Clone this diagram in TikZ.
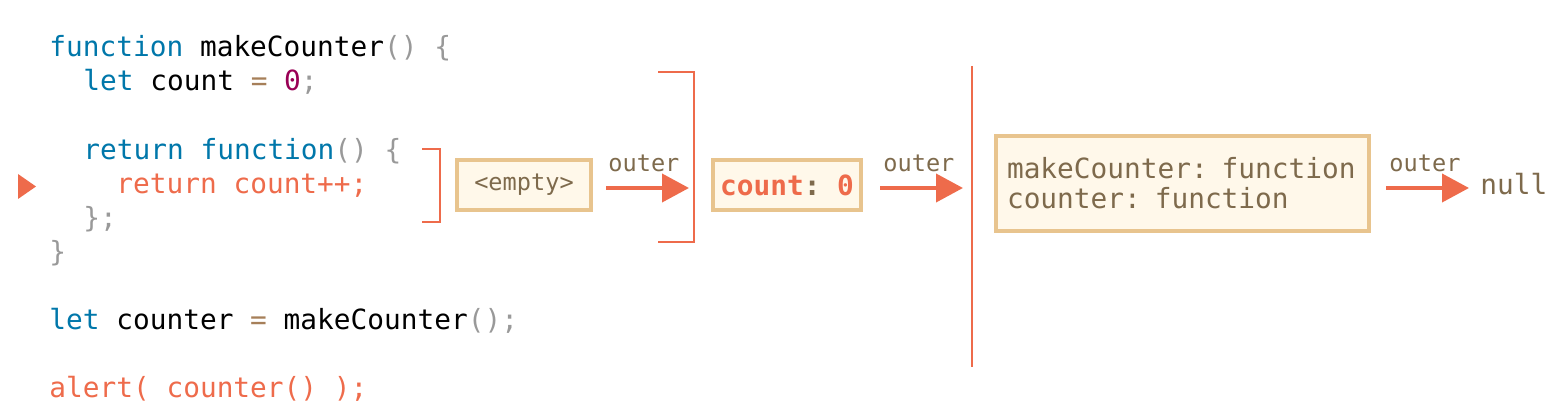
\documentclass[tikz,border=0pt]{standalone}
\usepackage{fontspec}
\setmonofont{DejaVu Sans Mono}
\usetikzlibrary{arrows.meta}
\definecolor{orng}{HTML}{EE6B4B}
\definecolor{kwblue}{HTML}{0077AA}
\definecolor{pgrey}{HTML}{999999}
\definecolor{eqbrown}{HTML}{A67F59}
\definecolor{numpur}{HTML}{990055}
\definecolor{boxfill}{HTML}{FFF8EA}
\definecolor{boxline}{HTML}{E8C48E}
\definecolor{txtbrown}{HTML}{7E6A4C}
\newcommand\kwd[1]{\textcolor{kwblue}{#1}}
\newcommand\pnc[1]{\textcolor{pgrey}{#1}}
\newcommand\eqs[1]{\textcolor{eqbrown}{#1}}
\newcommand\numc[1]{\textcolor{numpur}{#1}}
\tikzset{
  codeline/.style={anchor=base west, inner sep=0pt, font=\ttfamily\fontsize{13.9}{17}\selectfont, text=black},
  smalllbl/.style={anchor=base west, inner sep=0pt, font=\ttfamily\fontsize{11.8}{14}\selectfont, text=txtbrown},
  biglbl/.style={anchor=base west, inner sep=0pt, font=\ttfamily\fontsize{13.9}{17}\selectfont, text=txtbrown},
  envbox/.style={draw=boxline, fill=boxfill, line width=2pt, inner sep=0pt},
  arr/.style={draw=orng, line width=2pt, -{Triangle[length=13.5pt,width=14pt]}},
  brk/.style={draw=orng, line width=1pt},
}
\begin{document}
\begin{tikzpicture}[x=0.5pt,y=-0.5pt]
\useasboundingbox (0,0) rectangle (1566,410);
% code
\node[codeline] (l1) at (49,57) {\kwd{function} makeCounter\pnc{()} \pnc{\{}};
\node[codeline] (l2) at (83,91) {\kwd{let} count \eqs{=} \numc{0}\pnc{;}};
\node[codeline] (l3) at (83,160) {\kwd{return} \kwd{function}\pnc{()} \pnc{\{}};
\node[codeline, text=orng] (l4) at (116,194) {return count++;};
\node[codeline] (l5) at (83,228) {\pnc{\};}};
\node[codeline] (l6) at (49,262) {\pnc{\}}};
\node[codeline] (l7) at (49,330) {\kwd{let} counter \eqs{=} makeCounter\pnc{();}};
\node[codeline, text=orng] (l8) at (49,398) {alert( counter() );};
% current-line marker
\fill[orng] (18,174) -- (36,186.5) -- (18,199) -- cycle;
% brackets
\draw[brk] (422,149) -- (440,149) -- (440,222) -- (422,222);
\draw[brk] (658,72) -- (694,72) -- (694,242) -- (658,242);
\draw[draw=orng, line width=1pt] (972,66) -- (972,367);
% boxes
\node[envbox, minimum width=67pt, minimum height=25pt, font=\ttfamily\fontsize{11.8}{14}\selectfont, text=txtbrown] (empty) at (524,185) {<empty>};
\node[envbox, minimum width=74pt, minimum height=25pt, font=\ttfamily\bfseries\fontsize{13.9}{17}\selectfont, text=orng] (cnt) at (787,185) {count\textcolor{txtbrown}{:} 0};
\node[envbox, minimum width=186.5pt, minimum height=47.5pt, text width=175.5pt, align=left, inner xsep=5.5pt, font=\ttfamily\fontsize{13.9}{15}\selectfont, text=txtbrown] (glob) at (1182.5,183.5) {makeCounter: function\\counter: function};
% arrow endpoints
\coordinate (b1) at (689,188);
\coordinate (b2) at (963,188);
\node[biglbl] (nul) at (1480,195) {null};
\coordinate (b3) at (1469,188);
\coordinate (s1) at (606,188);
\coordinate (s2) at (880,188);
\coordinate (s3) at (1386,188);
\draw[arr] (s1) -- (b1);
\draw[arr] (s2) -- (b2);
\draw[arr] (s3) -- (b3);
\node[smalllbl] (o1) at (608,172) {outer};
\node[smalllbl] (o2) at (883,172) {outer};
\node[smalllbl] (o3) at (1389,172) {outer};
\end{tikzpicture}
\end{document}
